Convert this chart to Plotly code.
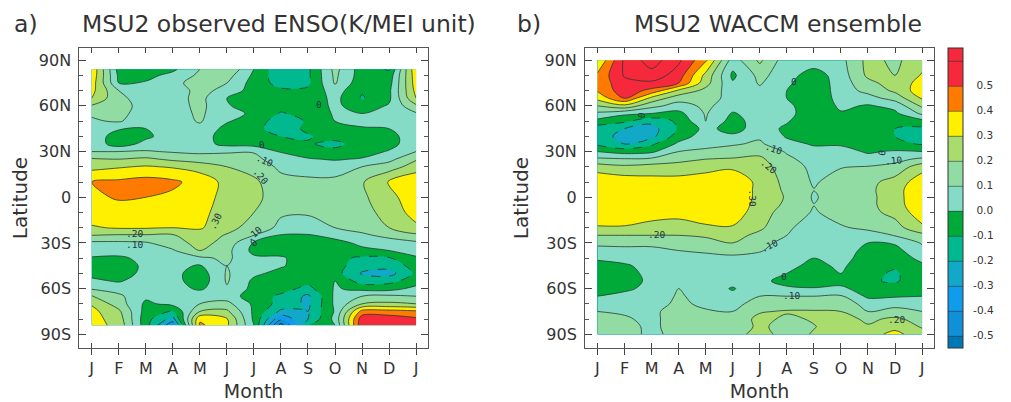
import plotly.graph_objects as go

# Page body has an 8 px margin in the browser: figure is placed accordingly.
PAGE_W, PAGE_H = 1011, 402
OFF = 8
W, H = PAGE_W - OFF, PAGE_H - OFF
MONTHS = ["J","F","M","A","M","J","J","A","S","O","N","D","J"]
MONTH_POS = list(range(13))
LAT_TICKS = [90,60,30,0,-30,-60,-90]
LAT_TEXT = ["90N","60N","30N","0","30S","60S","90S"]

LATS_A = [84,80,75,70,65,60,55,50,45,40,35,30,25,20,10,0,-10,-20,-25,-30,-35,-40,-45,-50,-55,-60,-65,-70,-75,-80,-84]
VALUES_A = [
 [.38,-.04,-.05,-.02,.10,.19,.00,-.18,-.12,.13,-.05,-.11,.38],
 [.37,-.02,-.03,.03,.12,.14,-.02,-.17,-.12,.12,-.05,-.06,.36],
 [.35,.00,.01,.08,.13,.10,-.04,-.14,-.12,.11,-.07,-.04,.35],
 [.33,.10,.03,.05,.13,.07,-.05,-.08,-.08,.05,-.09,-.02,.33],
 [.30,.12,.06,.06,.13,.00,-.05,-.07,-.07,.03,-.11,-.02,.30],
 [.19,.14,.06,.05,.13,.01,-.05,-.06,-.06,.02,-.05,.01,.18],
 [.11,.13,.05,.05,.12,.02,-.01,-.11,-.06,.01,.00,.03,.09],
 [.09,.11,.04,.05,.11,.01,-.05,-.15,-.09,.00,.03,.05,.07],
 [.07,.01,.00,.05,.07,-.03,-.07,-.15,-.08,-.04,-.01,.00,.07],
 [.06,-.05,-.02,.05,.05,-.05,-.06,-.10,-.11,-.06,-.04,-.04,.07],
 [.06,-.05,.03,.05,.04,-.03,-.04,-.06,-.09,-.13,-.05,-.04,.07],
 [.10,.10,.11,.09,.08,.09,.095,-.01,-.06,-.07,-.05,.01,.10],
 [.21,.20,.22,.18,.15,.14,.12,.06,.01,-.01,.01,.07,.19],
 [.27,.29,.31,.29,.26,.20,.16,.08,.06,.06,.10,.15,.25],
 [.40,.42,.44,.42,.36,.27,.22,.13,.12,.12,.19,.31,.38],
 [.38,.41,.40,.38,.34,.27,.22,.16,.14,.14,.18,.27,.36],
 [.35,.36,.36,.35,.33,.25,.20,.11,.105,.12,.16,.24,.34],
 [.29,.31,.31,.30,.31,.24,.15,.08,.08,.10,.14,.20,.28],
 [.20,.19,.19,.19,.26,.19,.10,-.01,-.01,.03,.08,.13,.18],
 [.08,.08,.09,.15,.24,.16,-.01,-.05,-.07,-.03,.02,.05,.08],
 [.05,.05,.06,.09,.20,.13,-.03,-.03,-.08,-.06,-.02,.00,.03],
 [-.01,-.02,.03,.05,.08,.12,.02,.01,-.04,-.07,-.12,-.11,-.01],
 [-.04,-.05,.02,.03,-.01,.10,.05,.01,-.05,-.06,-.16,-.16,-.06],
 [-.03,-.05,.03,.03,-.05,.11,.02,-.03,-.06,-.06,-.21,-.24,-.08],
 [.02,-.01,.05,.04,-.06,.11,-.02,-.05,-.07,.00,-.15,-.13,-.05],
 [.09,.06,.06,.05,-.02,.09,-.03,-.06,-.13,.01,-.03,-.04,.03],
 [.21,.12,.02,.06,.08,.05,-.05,-.12,-.22,.02,.10,.12,.10],
 [.29,.15,-.02,.03,.10,.13,-.02,-.14,-.22,.02,.20,.22,.20],
 [.33,.22,-.04,-.11,.20,.22,-.02,-.22,-.20,.01,.44,.44,.42],
 [.34,.25,-.06,-.24,.38,.31,-.02,-.38,-.20,.03,.56,.56,.52],
 [.34,.27,-.06,-.38,.42,.32,.00,-.55,-.10,.00,.58,.58,.52],
]

LATS_B = [90,80,75,70,65,60,55,50,45,40,35,30,25,20,10,5,0,-5,-10,-20,-25,-30,-35,-40,-45,-50,-55,-60,-65,-70,-75,-80,-85,-90]
VALUES_B = [
 [.30,.62,.75,.62,.42,.05,.22,.04,.06,.07,.23,.18,.26],
 [.42,.61,.66,.55,.27,-.02,.13,.04,-.05,.05,.22,.20,.31],
 [.43,.57,.58,.50,.24,.01,.11,.02,-.07,.05,.17,.25,.33],
 [.41,.56,.47,.28,.17,.05,.08,.00,-.08,.05,.13,.22,.36],
 [.33,.50,.27,.14,.15,.06,.07,.00,-.08,.04,.06,.14,.31],
 [.20,.27,.13,.06,.12,.05,.06,.03,-.08,.02,-.01,.03,.22],
 [.08,.02,.00,-.03,.11,-.01,.05,.04,-.08,-.01,-.04,-.02,.12],
 [-.03,-.08,-.17,-.08,.10,-.04,.05,.01,-.08,-.05,-.05,-.05,-.03],
 [-.16,-.20,-.24,-.09,.03,-.04,.05,-.02,-.08,-.07,-.07,-.10,-.12],
 [-.16,-.23,-.23,-.05,.05,.02,.085,-.01,-.06,-.07,-.07,-.10,-.13],
 [-.12,-.20,-.12,.02,.07,.09,.115,.03,-.01,-.01,-.05,-.07,-.11],
 [.00,-.04,-.02,.10,.12,.14,.17,.09,.03,.03,-.01,.01,.00],
 [.12,.11,.12,.17,.20,.21,.22,.12,.06,.08,.03,.07,.12],
 [.25,.22,.24,.24,.26,.28,.25,.14,.08,.095,.105,.13,.26],
 [.38,.36,.34,.34,.36,.38,.27,.17,.09,.14,.17,.24,.36],
 [.38,.37,.35,.35,.37,.38,.27,.18,.102,.145,.175,.26,.38],
 [.38,.38,.37,.37,.38,.38,.27,.19,.09,.15,.17,.26,.38],
 [.38,.38,.36,.35,.38,.37,.26,.18,.102,.15,.17,.26,.37],
 [.37,.37,.35,.33,.37,.36,.24,.16,.09,.14,.17,.23,.36],
 [.29,.29,.26,.26,.28,.29,.22,.11,.07,.09,.12,.16,.28],
 [.20,.20,.20,.20,.22,.24,.17,.10,.06,.07,.06,.105,.17],
 [.12,.12,.12,.15,.15,.20,.11,.09,.05,.06,.00,.01,.11],
 [.07,.08,.08,.10,.11,.13,.105,.07,.03,.05,-.03,-.03,.07],
 [.02,.05,.06,.07,.08,.08,.08,.05,.00,.04,-.05,-.06,.03],
 [-.05,-.02,.05,.06,.06,.07,.07,.03,-.03,.02,-.07,-.09,-.02],
 [-.08,-.05,.04,.05,.05,.06,.05,.00,-.05,.00,-.08,-.11,-.05],
 [-.08,-.06,.03,.05,.05,.04,.03,-.04,-.07,-.05,-.09,-.11,-.05],
 [-.06,-.02,.03,.10,.06,-.01,.08,.02,.01,.03,-.07,-.06,-.04],
 [.00,.03,.05,.11,.07,.03,.10,.10,.10,.11,-.02,-.01,.00],
 [.05,.04,.06,.12,.08,.07,.14,.14,.14,.16,.06,.07,.07],
 [.10,.09,.08,.14,.11,.10,.19,.21,.21,.20,.10,.13,.10],
 [.14,.11,.08,.14,.13,.13,.23,.18,.21,.24,.18,.22,.16],
 [.16,.13,.08,.14,.14,.14,.22,.16,.195,.25,.21,.27,.19],
 [.20,.15,.07,.14,.14,.15,.25,.15,.21,.24,.26,.33,.24],
]

BAND_COLORS = ["#0078b8","#1090d8","#109cee","#12a8c8","#00b98e","#00aa38",
               "#84dcc6","#90dca2","#a8dc6c","#fff000","#ff7a00","#f5283c"]
CB_TICKS = [-.5,-.4,-.3,-.2,-.1,0,.1,.2,.3,.4,.5]
CB_TEXT = ["-0.5","-0.4","-0.3","-0.2","-0.1","\u00a00.0","\u00a00.1","\u00a00.2","\u00a00.3","\u00a00.4","\u00a00.5"]

LABELS_A = [("0",6.3,34.4,-10),(".10",6.4,24,25),(".20",6.26,13.5,50),(".30",4.57,-16,-65),
            (".20",1.6,-24,0),(".10",1.6,-31,0),(".10",6,-23.6,-40),("0",6,-30,-40),("0",8.4,60.6,0)]
LABELS_B = [("0",1.63,53.6,-80),("0",7.26,76,0),(".10",6.5,31.7,20),(".20",6.34,20,40),
            (".30",5.74,-0.7,90),(".20",2.17,-24.7,0),(".10",6.37,-32,-25),("0",6.9,-52,0),
            (".10",7.17,-64.8,0),(".20",11.04,-80.5,0),("0",10.5,28.9,-80),(".10",10.95,24,-5)]

FONT = "DejaVu Sans"
INK = "#333333"
stops = []
n = len(BAND_COLORS)
for i, c in enumerate(BAND_COLORS):
    stops += [[i/n, c], [(i+1)/n, c]]

def xp(px):
    return (px - OFF) / W
def yp(py):
    return 1 - (py - OFF) / H

fig = go.Figure()
lev = dict(start=-.6, end=.6, size=.1)
ZR = dict(zmin=-.55, zmax=.65)

def add_panel(xa, ya, xo, lats, vals, with_bar):
    common = dict(x=MONTH_POS, y=lats, z=vals, xaxis=xa, yaxis=ya, hoverinfo="skip")
    if with_bar:
        fig.add_trace(go.Contour(**common, colorscale=stops, **ZR, autocontour=False,
            contours=dict(coloring="fill", showlines=True, **lev), line=dict(width=.6, color="#333"),
            showscale=True,
            colorbar=dict(x=xp(948), xanchor="left", xref="paper", y=yp(348), yanchor="bottom", yref="paper",
                          len=300, lenmode="pixels", thickness=15, thicknessmode="pixels",
                          tickmode="array", tickvals=CB_TICKS, ticktext=CB_TEXT, ticks="outside", ticklen=8,
                          tickcolor="rgba(0,0,0,0)", outlinewidth=1, outlinecolor="#333", xpad=0, ypad=0,
                          tickfont=dict(family=FONT, size=10.5, color="#333"))))
    fig.add_trace(go.Contour(**common, colorscale=stops, **ZR, autocontour=False,
        contours=dict(coloring="fill", showlines=False, **lev), line=dict(width=0), showscale=False))
    fig.add_trace(go.Contour(x=MONTH_POS, y=lats, z=vals, xaxis=xo, yaxis=ya, hoverinfo="skip",
        autocontour=False, showscale=False,
        contours=dict(coloring="none", start=0, end=.8, size=.1), line=dict(width=.8, color="#2a3a30")))
    fig.add_trace(go.Contour(x=MONTH_POS, y=lats, z=vals, xaxis=xo, yaxis=ya, hoverinfo="skip",
        autocontour=False, showscale=False,
        contours=dict(coloring="none", start=-.6, end=-.1, size=.1),
        line=dict(width=.8, color="#1a3a30", dash="dash")))

add_panel("x", "y", "x3", LATS_A, VALUES_A, False)
add_panel("x2", "y2", "x4", LATS_B, VALUES_B, True)

BOX_A = [xp(79.3), xp(428)]
BOX_B = [xp(585), xp(934)]
Y_DOM = [yp(348), yp(48)]
XR_A = [-0.46, 12.44]
XR_B = [-0.46, 12.44]
YR = [-99, 98]
tick_font = dict(family=FONT, size=16, color=INK)
base_x = dict(tickmode="array", tickvals=MONTH_POS, ticktext=MONTHS, showgrid=False, zeroline=False,
              showline=True, linecolor="#555", linewidth=1, tickcolor="#444", tickfont=tick_font,
              title=dict(text="Month", font=dict(family=FONT, size=19, color=INK), standoff=7))
base_y = dict(tickmode="array", tickvals=LAT_TICKS, ticktext=LAT_TEXT, range=YR, showgrid=False, zeroline=False,
              showline=True, linecolor="#555", linewidth=1, tickcolor="#444", tickfont=tick_font,
              ticks="inside", ticklen=7, mirror="ticks", ticklabelstandoff=4,
              minor=dict(ticks="inside", ticklen=4, dtick=10, tick0=0, tickcolor="#555", showgrid=False),
              title=dict(text="Latitude", font=dict(family=FONT, size=20, color=INK), standoff=10))

fig.update_layout(
    width=W, height=H, autosize=False, margin=dict(l=0, r=0, t=0, b=0),
    paper_bgcolor="white", plot_bgcolor="white", showlegend=False,
    xaxis=dict(**base_x, domain=BOX_A, range=XR_A, anchor="y", ticks="outside", ticklen=6),
    xaxis2=dict(**base_x, domain=BOX_B, range=XR_B, anchor="y2", ticks="outside", ticklen=6),
    xaxis3=dict(domain=BOX_A, range=XR_A, anchor="y", overlaying="x", tickmode="array", tickvals=MONTH_POS,
                ticks="inside", ticklen=5, mirror="ticks", showticklabels=False, showgrid=False, zeroline=False,
                showline=True, linecolor="#555", tickcolor="#444"),
    xaxis4=dict(domain=BOX_B, range=XR_B, anchor="y2", overlaying="x2", tickmode="array", tickvals=MONTH_POS,
                ticks="inside", ticklen=5, mirror="ticks", showticklabels=False, showgrid=False, zeroline=False,
                showline=True, linecolor="#555", tickcolor="#444"),
    yaxis=dict(**base_y, domain=Y_DOM, anchor="x"),
    yaxis2=dict(**base_y, domain=Y_DOM, anchor="x2"),
)

ann = []
for txt, m, lat, ang in LABELS_A:
    ann.append(dict(text=txt, x=m, y=lat, xref="x", yref="y", showarrow=False, textangle=ang,
                    font=dict(family="DejaVu Sans Mono", size=9.5, color="#234")))
for txt, m, lat, ang in LABELS_B:
    ann.append(dict(text=txt, x=m, y=lat, xref="x2", yref="y2", showarrow=False, textangle=ang,
                    font=dict(family="DejaVu Sans Mono", size=9.5, color="#234")))
title_font = dict(family=FONT, size=23.5, color=INK)
ann += [
    dict(text="a)", x=xp(12), y=yp(24), xref="paper", yref="paper", xanchor="left", yanchor="middle", showarrow=False, font=title_font),
    dict(text="MSU2 observed ENSO(K/MEI unit)", x=xp(279), y=yp(24), xref="paper", yref="paper", xanchor="center", yanchor="middle", showarrow=False, font=title_font),
    dict(text="b)", x=xp(515), y=yp(24), xref="paper", yref="paper", xanchor="left", yanchor="middle", showarrow=False, font=title_font),
    dict(text="MSU2 WACCM ensemble", x=xp(778), y=yp(24), xref="paper", yref="paper", xanchor="center", yanchor="middle", showarrow=False, font=title_font),
]
fig.update_layout(annotations=ann)
fig.write_html("out.html")
